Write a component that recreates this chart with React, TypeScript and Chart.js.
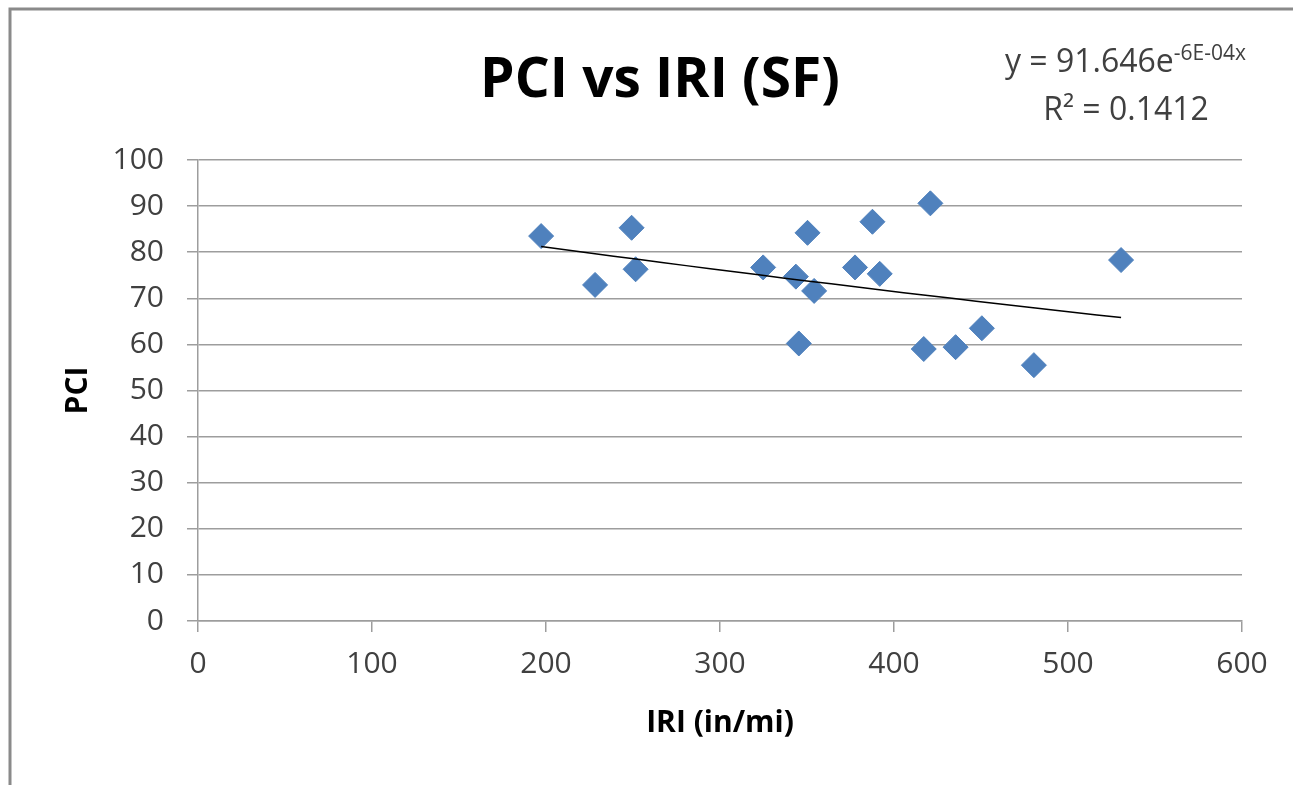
import React, { useEffect, useRef } from 'react';
import { Chart, registerables } from 'chart.js';

Chart.register(...registerables);

// ---- Data ----
const iriValues = [197.2, 228.2, 249.2, 251.5, 324.8, 343.6, 354.1, 345.3, 350.3, 377.6, 391.8, 387.6, 420.9, 417.1, 435.4, 450.5, 480.4, 530.5];
const pciValues = [83.5, 72.9, 85.3, 76.3, 76.7, 74.7, 71.6, 60.2, 84.2, 76.7, 75.3, 86.6, 90.6, 59.0, 59.4, 63.5, 55.5, 78.3];

const xTickValues = [0, 100, 200, 300, 400, 500, 600];
const yTickValues = [0, 10, 20, 30, 40, 50, 60, 70, 80, 90, 100];

const chartTitle = 'PCI vs IRI (SF)';
const xAxisTitle = 'IRI (in/mi)';
const yAxisTitle = 'PCI';
const equationMain = 'y = 91.646e';
const equationExponent = '-6E-04x';
const rSquaredText = 'R² = 0.1412';

// Exponential trendline (least squares on ln y, like a spreadsheet exponential trendline)
function exponentialFit(xs: number[], ys: number[]) {
  const n = xs.length;
  const ly = ys.map((v) => Math.log(v));
  const mx = xs.reduce((a, b) => a + b, 0) / n;
  const my = ly.reduce((a, b) => a + b, 0) / n;
  let sxy = 0;
  let sxx = 0;
  for (let i = 0; i < n; i++) {
    sxy += (xs[i] - mx) * (ly[i] - my);
    sxx += (xs[i] - mx) * (xs[i] - mx);
  }
  const b = sxy / sxx;
  const a = Math.exp(my - b * mx);
  return { a, b };
}

const FONT = '"Open Sans", "DejaVu Sans", sans-serif';

export default function App() {
  const canvasRef = useRef<HTMLCanvasElement | null>(null);

  useEffect(() => {
    const canvas = canvasRef.current;
    if (!canvas) return;
    document.body.style.margin = '0';

    const fit = exponentialFit(iriValues, pciValues);
    const xMin = Math.min(...iriValues);
    const xMax = Math.max(...iriValues);
    const steps = 24;
    const trend = [] as { x: number; y: number }[];
    for (let i = 0; i <= steps; i++) {
      const x = xMin + ((xMax - xMin) * i) / steps;
      trend.push({ x, y: fit.a * Math.exp(fit.b * x) });
    }

    const decor = {
      id: 'decor',
      beforeDraw(chart: any) {
        const ctx = chart.ctx as CanvasRenderingContext2D;
        ctx.save();
        ctx.fillStyle = '#ffffff';
        ctx.fillRect(0, 0, chart.width, chart.height);
        ctx.strokeStyle = '#8a8a8a';
        ctx.lineWidth = 3;
        ctx.beginPath();
        ctx.moveTo(10, chart.height);
        ctx.lineTo(10, 9);
        ctx.lineTo(chart.width, 9);
        ctx.stroke();
        ctx.restore();
      },
      afterDraw(chart: any) {
        const ctx = chart.ctx as CanvasRenderingContext2D;
        ctx.save();
        // Title
        ctx.fillStyle = '#000000';
        ctx.font = `bold 55px ${FONT}`;
        ctx.textAlign = 'center';
        ctx.textBaseline = 'alphabetic';
        ctx.fillText(chartTitle, 660, 97);

        // Trendline equation (clipped at right like the reference)
        ctx.fillStyle = '#404040';
        ctx.save();
        ctx.beginPath();
        ctx.rect(0, 0, 1251, chart.height);
        ctx.clip();
        ctx.textAlign = 'left';
        ctx.font = `32px ${FONT}`;
        const w1 = ctx.measureText(equationMain).width;
        ctx.fillText(equationMain, 1005, 72);
        ctx.font = `21px ${FONT}`;
        ctx.fillText(equationExponent, 1005 + w1, 60);
        ctx.restore();

        ctx.textAlign = 'center';
        ctx.font = `32px ${FONT}`;
        ctx.fillText(rSquaredText, 1126, 120);
        ctx.restore();
      },
    };

    const gridColor = '#9d9d9d';

    const chart = new Chart(canvas, {
      type: 'scatter',
      data: {
        datasets: [
          {
            type: 'line',
            label: 'Trend',
            data: trend,
            borderColor: '#000000',
            borderWidth: 1.5,
            pointRadius: 0,
            fill: false,
            tension: 0,
            order: 0,
          } as any,
          {
            type: 'scatter',
            label: 'PCI',
            data: iriValues.map((x, i) => ({ x, y: pciValues[i] })),
            pointStyle: 'rectRot',
            pointRadius: 12.5,
            backgroundColor: '#4f81bd',
            borderColor: '#4f81bd',
            borderWidth: 1,
            order: 1,
          },
        ],
      },
      options: {
        responsive: false,
        animation: false,
        devicePixelRatio: 1,
        layout: { padding: { left: 0, right: 51, top: 160, bottom: 0 } },
        plugins: {
          legend: { display: false },
          tooltip: { enabled: false },
          title: { display: false },
        },
        scales: {
          x: {
            type: 'linear',
            position: 'bottom',
            min: 0,
            max: 600,
            afterBuildTicks: (scale: any) => {
              scale.ticks = xTickValues.map((v) => ({ value: v }));
            },
            afterFit: (scale: any) => {
              scale.height = 164;
            },
            ticks: {
              color: '#404040',
              font: { family: FONT, size: 30 },
              padding: 14,
              maxRotation: 0,
              autoSkip: false,
            },
            grid: {
              drawOnChartArea: false,
              drawTicks: true,
              tickLength: 11,
              color: gridColor,
              lineWidth: 1.5,
            },
            border: { display: true, color: gridColor, width: 1.5 },
            title: {
              display: true,
              text: xAxisTitle,
              color: '#000000',
              font: { family: FONT, size: 30, weight: 'bold' },
              padding: { top: 0, bottom: 44 },
            },
          },
          y: {
            type: 'linear',
            position: 'left',
            min: 0,
            max: 100,
            afterBuildTicks: (scale: any) => {
              scale.ticks = yTickValues.map((v) => ({ value: v }));
            },
            afterFit: (scale: any) => {
              scale.width = 198;
            },
            ticks: {
              color: '#404040',
              font: { family: FONT, size: 30 },
              padding: 23,
              autoSkip: false,
            },
            grid: {
              drawOnChartArea: true,
              drawTicks: true,
              tickLength: 11,
              color: gridColor,
              lineWidth: 1.5,
            },
            border: { display: true, color: gridColor, width: 1.5 },
            title: {
              display: true,
              text: yAxisTitle,
              color: '#000000',
              font: { family: FONT, size: 30, weight: 'bold' },
              padding: { top: 60, bottom: 0 },
            },
          },
        },
      },
      plugins: [decor],
    });

    return () => {
      chart.destroy();
    };
  }, []);

  return (
    <div style={{ position: 'absolute', left: 0, top: 0, width: 1293, height: 785 }}>
      <canvas ref={canvasRef} width={1293} height={785} style={{ width: 1293, height: 785, display: 'block' }} />
    </div>
  );
}
